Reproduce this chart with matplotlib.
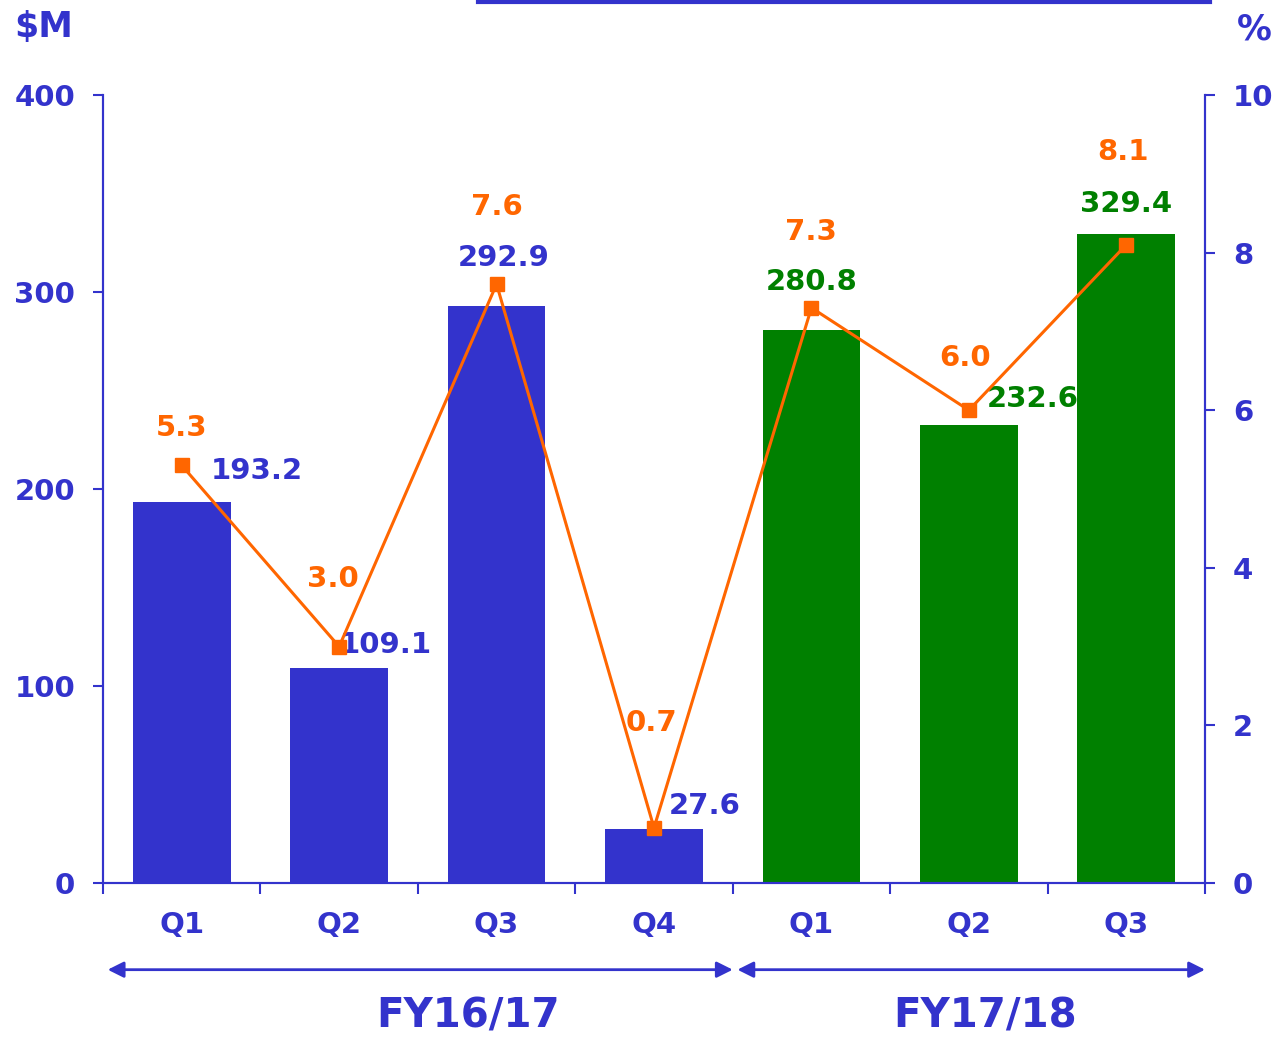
import matplotlib.pyplot as plt
import numpy as np

quarters = ["Q1", "Q2", "Q3", "Q4", "Q1", "Q2", "Q3"]
revenue = [193.2, 109.1, 292.9, 27.6, 280.8, 232.6, 329.4]
margin = [5.3, 3.0, 7.6, 0.7, 7.3, 6.0, 8.1]
years = ["FY16/17", "FY17/18"]
year_span = [(-0.5, 3.5), (3.5, 6.5)]

blue = "#3333cc"
green = "#008000"
orange = "#ff6600"
bar_colors = [blue] * 4 + [green] * 3

# label offsets in pixels (dx, dy) from the top of each bar / marker
rev_off = [(75, 31), (47, 23), (7, 48), (51, 23), (0, 48), (64, 26), (0, 30)]
pct_off = [(0, 37), (-6, 68), (0, 77), (-2, 105), (0, 76), (-4, 52), (-3, 93)]

plt.rcParams["font.family"] = "DejaVu Sans"
plt.rcParams["font.weight"] = "bold"

fig = plt.figure(figsize=(12.76, 10.39), dpi=100)
ax = fig.add_axes([103 / 1276, 1 - 883 / 1039, 1102 / 1276, 788 / 1039])
ax2 = ax.twinx()

x = np.arange(len(quarters))
ax.bar(x, revenue, width=0.62, color=bar_colors, zorder=2)
ax.set_xlim(-0.5, 6.5)
ax.set_ylim(0, 400)
ax.set_yticks([0, 100, 200, 300, 400])

ax2.plot(x, margin, color=orange, lw=2.2, marker="s", ms=9.5, zorder=3)
ax2.set_ylim(0, 10)
ax2.set_yticks([0, 2, 4, 6, 8, 10])

for a in (ax, ax2):
    a.spines["top"].set_visible(False)
    for s in ["left", "right", "bottom"]:
        a.spines[s].set_color(blue)
        a.spines[s].set_linewidth(1.5)
    a.tick_params(axis="y", colors=blue, labelsize=21, length=7, width=1.5, pad=13)
    for t in a.get_yticklabels():
        t.set_fontweight("bold")

ax.set_xticks(np.arange(-0.5, 7, 1))
ax.set_xticklabels([])
ax.set_xticks(x, minor=True)
ax.set_xticklabels(quarters, minor=True, fontsize=21, fontweight="bold", color=blue)
ax.tick_params(axis="x", which="major", colors=blue, length=8, width=1.5)
ax.tick_params(axis="x", which="minor", length=0, pad=20)

for i, v in enumerate(revenue):
    ax.annotate(f"{v:.1f}", (i, v), xytext=rev_off[i], textcoords="offset pixels",
                ha="center", va="center", fontsize=21, fontweight="bold",
                color=bar_colors[i], zorder=5)
for i, v in enumerate(margin):
    ax2.annotate(f"{v:.1f}", (i, v), xytext=pct_off[i], textcoords="offset pixels",
                 ha="center", va="center", fontsize=21, fontweight="bold",
                 color=orange, zorder=5)

trans = ax.get_xaxis_transform()
year_x = [1.82, 5.1]
for (x0, x1), name, xc in zip(year_span, years, year_x):
    ax.annotate("", xy=(x1, -0.11), xytext=(x0 + 0.03, -0.11), xycoords=trans,
                textcoords=trans, annotation_clip=False,
                arrowprops=dict(arrowstyle="<|-|>", color=blue, lw=2,
                                mutation_scale=24, shrinkA=0, shrinkB=0))
    ax.text(xc, -0.17, name, transform=trans, ha="center", va="center",
            fontsize=29, fontweight="bold", color=blue, clip_on=False)

fig.text(14 / 1276, 1 - 27 / 1039, "$M", ha="left", va="center",
         fontsize=25, fontweight="bold", color=blue)
fig.text(1272 / 1276, 1 - 29 / 1039, "%", ha="right", va="center",
         fontsize=25, fontweight="bold", color=blue)
fig.add_artist(plt.Line2D([478 / 1276, 1210 / 1276], [1 - 2 / 1039, 1 - 2 / 1039],
                          color=blue, lw=3))

fig.savefig("out.png", dpi=100)
